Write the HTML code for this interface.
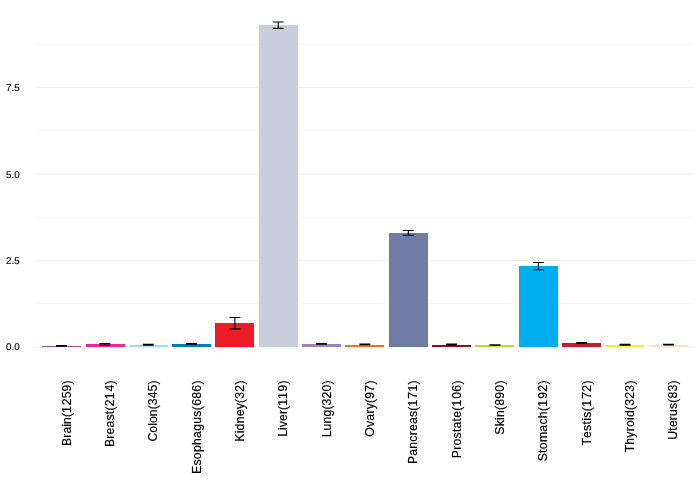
<!DOCTYPE html>
<html><head><meta charset="utf-8"><title>chart</title>
<style>
html,body{margin:0;padding:0;background:#fff;}
body{width:700px;height:480px;overflow:hidden;}
svg{display:block;}
text{font-family:"Liberation Sans",sans-serif;fill:#000;stroke:#000;stroke-width:0.18px;}
.yl{font-size:9.8px;fill:#000;text-rendering:geometricPrecision;stroke-width:0.12px;}
.xl{font-size:12.25px;letter-spacing:0.21px;fill:#000;}
</style></head><body>
<svg width="700" height="480" viewBox="0 0 700 480">
<rect width="700" height="480" fill="#fff"/>
<line x1="35.6" x2="694.4" y1="346.90" y2="346.90" stroke="#F0F0F0" stroke-width="1.0"/>
<line x1="35.6" x2="694.4" y1="303.66" y2="303.66" stroke="#F7F7F7" stroke-width="1.0"/>
<line x1="35.6" x2="694.4" y1="260.42" y2="260.42" stroke="#F0F0F0" stroke-width="1.0"/>
<line x1="35.6" x2="694.4" y1="217.19" y2="217.19" stroke="#F7F7F7" stroke-width="1.0"/>
<line x1="35.6" x2="694.4" y1="173.95" y2="173.95" stroke="#F0F0F0" stroke-width="1.0"/>
<line x1="35.6" x2="694.4" y1="130.71" y2="130.71" stroke="#F7F7F7" stroke-width="1.0"/>
<line x1="35.6" x2="694.4" y1="87.47" y2="87.47" stroke="#F0F0F0" stroke-width="1.0"/>
<line x1="35.6" x2="694.4" y1="44.24" y2="44.24" stroke="#F7F7F7" stroke-width="1.0"/>
<rect x="42" y="346" width="39" height="1" fill="#B2509E"/>
<rect x="86" y="344" width="39" height="3" fill="#ED2891"/>
<rect x="129" y="345" width="39" height="2" fill="#9EDDF9"/>
<rect x="172" y="344" width="39" height="3" fill="#007EB5"/>
<rect x="215" y="323" width="39" height="24" fill="#ED1C24"/>
<rect x="259" y="25" width="39" height="322" fill="#CACCDB"/>
<rect x="302" y="344" width="39" height="3" fill="#A084BD"/>
<rect x="345" y="345" width="39" height="2" fill="#D97D25"/>
<rect x="389" y="233" width="39" height="114" fill="#6E7BA2"/>
<rect x="432" y="345" width="39" height="2" fill="#7E1918"/>
<rect x="475" y="345" width="39" height="2" fill="#BBD642"/>
<rect x="519" y="266" width="39" height="81" fill="#00AEEF"/>
<rect x="562" y="343" width="39" height="4" fill="#BE1E2D"/>
<rect x="605" y="345" width="39" height="2" fill="#F9ED32"/>
<rect x="649" y="345" width="39" height="2" fill="#FBE3C7"/>
<path d="M56.05 345.55H66.95M56.05 346.30H66.95M61.50 345.55V346.30" stroke="#000" stroke-width="1.07" fill="none"/>
<path d="M99.40 343.50H110.30M99.40 345.00H110.30M104.85 343.50V345.00" stroke="#000" stroke-width="1.07" fill="none"/>
<path d="M142.75 344.30H153.65M142.75 345.20H153.65M148.20 344.30V345.20" stroke="#000" stroke-width="1.07" fill="none"/>
<path d="M186.10 343.50H197.00M186.10 344.30H197.00M191.55 343.50V344.30" stroke="#000" stroke-width="1.07" fill="none"/>
<path d="M229.45 317.50H240.35M229.45 328.90H240.35M234.90 317.50V328.90" stroke="#000" stroke-width="1.07" fill="none"/>
<path d="M272.80 22.05H283.70M272.80 28.40H283.70M278.25 22.05V28.40" stroke="#000" stroke-width="1.07" fill="none"/>
<path d="M316.15 343.50H327.05M316.15 344.30H327.05M321.60 343.50V344.30" stroke="#000" stroke-width="1.07" fill="none"/>
<path d="M359.50 344.00H370.40M359.50 344.80H370.40M364.95 344.00V344.80" stroke="#000" stroke-width="1.07" fill="none"/>
<path d="M402.85 230.50H413.75M402.85 235.25H413.75M408.30 230.50V235.25" stroke="#000" stroke-width="1.07" fill="none"/>
<path d="M446.20 344.10H457.10M446.20 345.00H457.10M451.65 344.10V345.00" stroke="#000" stroke-width="1.07" fill="none"/>
<path d="M489.55 344.70H500.45M489.55 345.30H500.45M495.00 344.70V345.30" stroke="#000" stroke-width="1.07" fill="none"/>
<path d="M532.90 262.50H543.80M532.90 269.75H543.80M538.35 262.50V269.75" stroke="#000" stroke-width="1.07" fill="none"/>
<path d="M576.25 342.50H587.15M576.25 343.40H587.15M581.70 342.50V343.40" stroke="#000" stroke-width="1.07" fill="none"/>
<path d="M619.60 344.30H630.50M619.60 345.20H630.50M625.05 344.30V345.20" stroke="#000" stroke-width="1.07" fill="none"/>
<path d="M662.95 344.20H673.85M662.95 345.00H673.85M668.40 344.20V345.00" stroke="#000" stroke-width="1.07" fill="none"/>
<text class="yl" x="19.6" y="350.4" text-anchor="end">0.0</text>
<text class="yl" x="19.6" y="264.4" text-anchor="end">2.5</text>
<text class="yl" x="19.6" y="178.4" text-anchor="end">5.0</text>
<text class="yl" x="19.6" y="91.4" text-anchor="end">7.5</text>
<text class="xl" transform="translate(70.90,380.46) rotate(-90)" text-anchor="end" dx="0 0 0 0 0 0 0 0.8 0 0 0" style="letter-spacing:0.050px">Brain(1259)</text>
<text class="xl" transform="translate(113.90,380.34) rotate(-90)" text-anchor="end" dx="0 0 0 0 0 0 0 0 0 0.8 0" style="letter-spacing:0.170px">Breast(214)</text>
<text class="xl" transform="translate(156.90,380.47) rotate(-90)" text-anchor="end" dx="0 0 0 0 0 0 0 0 0 0" style="letter-spacing:0.043px">Colon(345)</text>
<text class="xl" transform="translate(200.90,380.23) rotate(-90)" text-anchor="end" dx="0 0 0 0 0 0 0 0 0 0 0 0 0 0" style="letter-spacing:0.279px">Esophagus(686)</text>
<text class="xl" transform="translate(243.90,380.30) rotate(-90)" text-anchor="end" dx="0 0 0 0 0 0 0 0 0 0" style="letter-spacing:0.210px">Kidney(32)</text>
<text class="xl" transform="translate(286.90,380.48) rotate(-90)" text-anchor="end" dx="0 0 0 0 0 0 0 0.8 0.8 0" style="letter-spacing:0.032px">Liver(119)</text>
<text class="xl" transform="translate(330.90,380.39) rotate(-90)" text-anchor="end" dx="0 0 0 0 0 0 0 0 0" style="letter-spacing:0.116px">Lung(320)</text>
<text class="xl" transform="translate(373.90,380.30) rotate(-90)" text-anchor="end" dx="0 0 0 0 0 0 0 0 0" style="letter-spacing:0.210px">Ovary(97)</text>
<text class="xl" transform="translate(416.90,380.32) rotate(-90)" text-anchor="end" dx="0 0 0 0 0 0 0 0 0 0 0.8 0 0" style="letter-spacing:0.193px">Pancreas(171)</text>
<text class="xl" transform="translate(460.90,380.30) rotate(-90)" text-anchor="end" dx="0 0 0 0 0 0 0 0 0 0 0.8 0 0" style="letter-spacing:0.206px">Prostate(106)</text>
<text class="xl" transform="translate(503.90,380.30) rotate(-90)" text-anchor="end" dx="0 0 0 0 0 0 0 0 0" style="letter-spacing:0.210px">Skin(890)</text>
<text class="xl" transform="translate(546.90,380.24) rotate(-90)" text-anchor="end" dx="0 0 0 0 0 0 0 0 0 0.8 0 0" style="letter-spacing:0.274px">Stomach(192)</text>
<text class="xl" transform="translate(590.90,380.19) rotate(-90)" text-anchor="end" dx="0 0.9 0 0 0 0 0 0 0.8 0 0" style="letter-spacing:0.320px">Testis(172)</text>
<text class="xl" transform="translate(633.90,380.30) rotate(-90)" text-anchor="end" dx="0 0 0 0 0 0 0 0 0 0 0 0" style="letter-spacing:0.210px">Thyroid(323)</text>
<text class="xl" transform="translate(676.90,380.38) rotate(-90)" text-anchor="end" dx="0 0 0 0 0 0 0 0 0 0" style="letter-spacing:0.127px">Uterus(83)</text>
</svg>
</body></html>
